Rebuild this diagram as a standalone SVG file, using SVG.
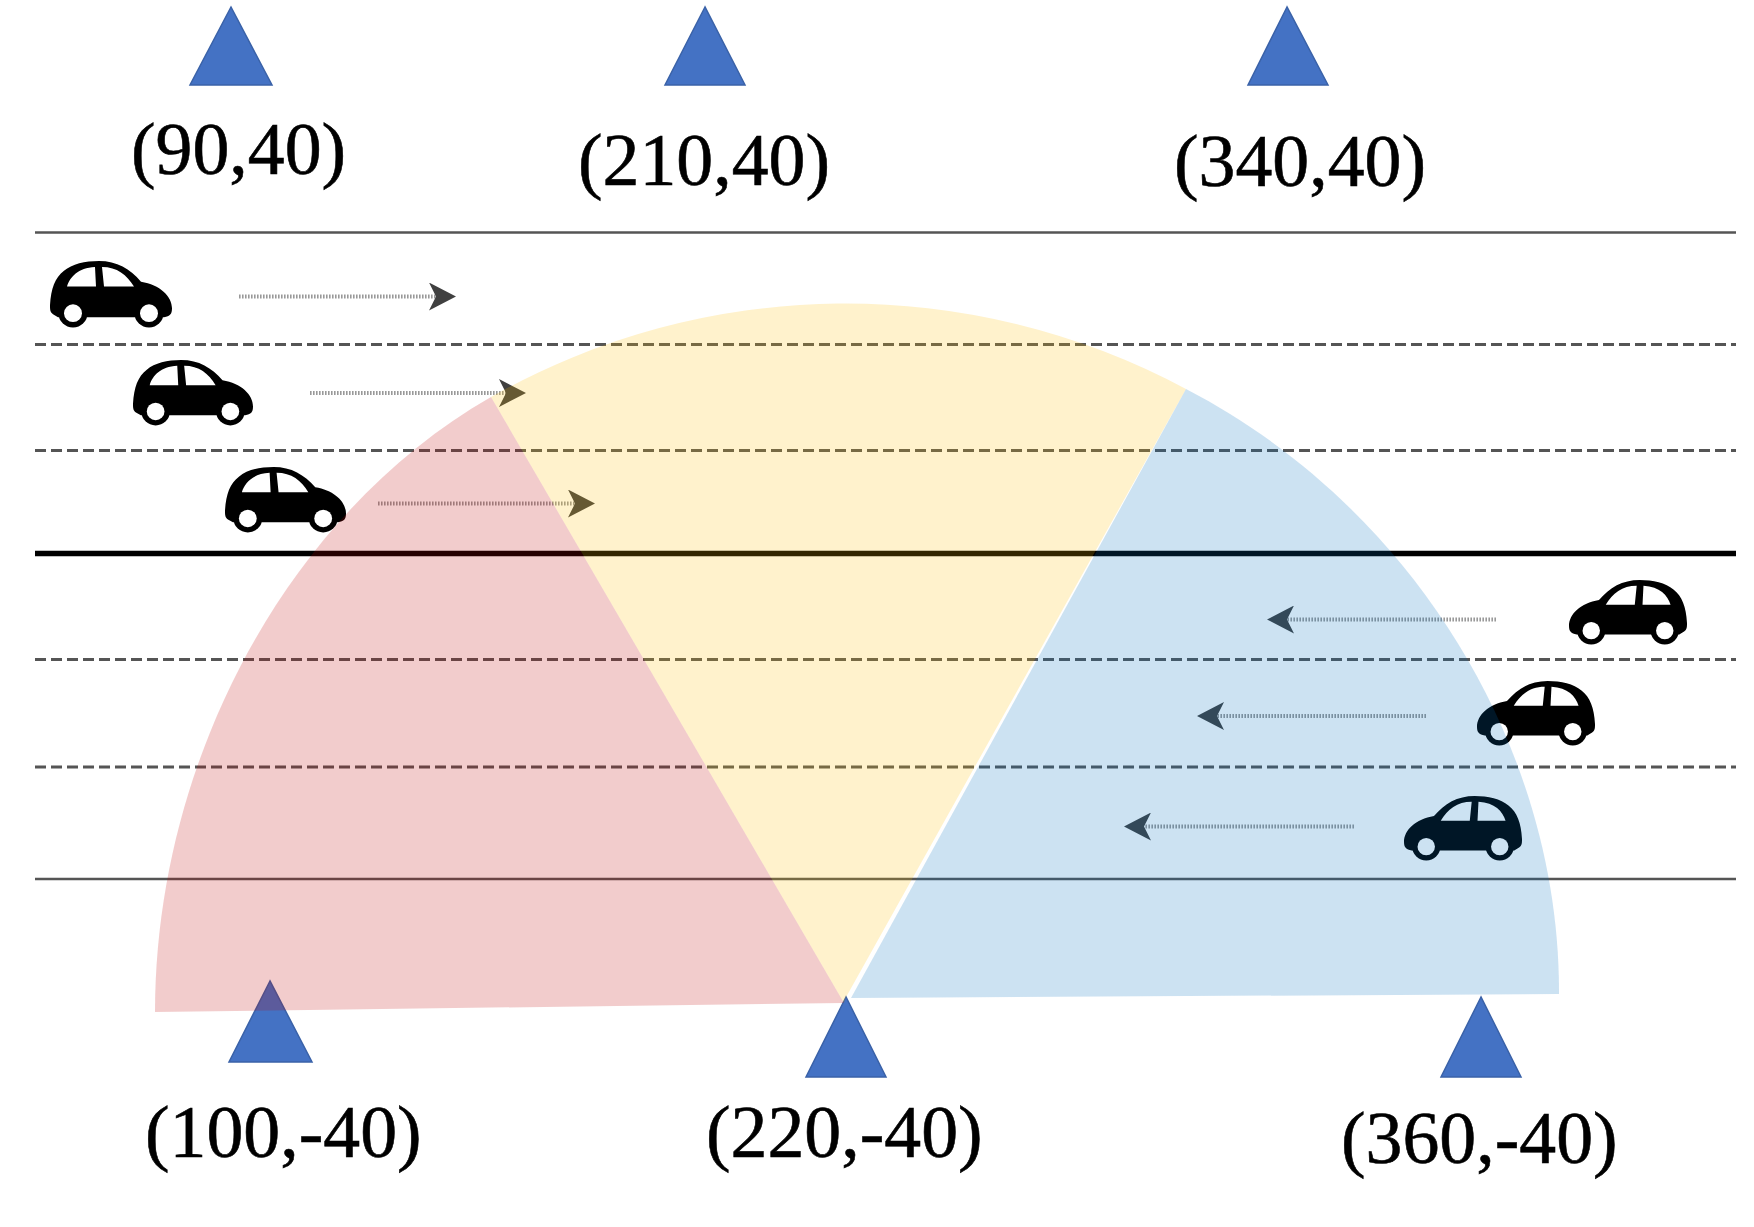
<svg xmlns="http://www.w3.org/2000/svg" xmlns:xlink="http://www.w3.org/1999/xlink" width="1754" height="1227" viewBox="0 0 1754 1227">
<style>
.solid{stroke:#555;stroke-width:2.4;fill:none}
.dash{stroke:#555;stroke-width:3;stroke-dasharray:11 5;fill:none}
.thick{stroke:#000;stroke-width:5.5;fill:none}
.flow{stroke:#999;stroke-width:4;stroke-dasharray:1.6 1.4;fill:none;marker-end:url(#head)}
.tri{fill:#4472c4;stroke:#3a62a8;stroke-width:1.5}
.lbl{font-family:"Liberation Serif","Times New Roman",serif;font-size:73.8px;fill:#000;stroke:#000;stroke-width:.6}
</style>
<defs>
<marker id="head" markerUnits="userSpaceOnUse" markerWidth="27" markerHeight="28" refX="8" refY="14" orient="auto" viewBox="0 0 27 28">
<path d="M0 0 L27 14 L0 28 L7 14 Z" fill="#404040"/>
</marker>
<symbol id="car" viewBox="0 0 122 67" overflow="visible" preserveAspectRatio="none">
<path d="M3 54 C0 52 0 49 0 45 C1 28 5 17 14 10 C22 3 35 0 49 0 C67 0 80 8 91 21 C110 24 122 36 122 48 C122 54 120 56 114 57 L8 57 Z" fill="#000"/>
<circle cx="23" cy="53" r="14.5" fill="#000"/><circle cx="99" cy="53" r="14.5" fill="#000"/>
<circle cx="23" cy="53" r="9" fill="#fff"/><circle cx="99" cy="53" r="9" fill="#fff"/>
<path d="M17 26 C20 16 28 7 45 6 L46 26 Z M52 6 C67 6 77 14 84 26 L54 26 Z" fill="#fff"/>
</symbol>
</defs>
<rect width="1754" height="1227" fill="#fff"/>
<g id="road">
<line class="solid" x1="35" y1="232.5" x2="1736" y2="232.5"/>
<line class="dash" x1="35" y1="344.5" x2="1736" y2="344.5"/>
<line class="dash" x1="35" y1="450.5" x2="1736" y2="450.5"/>
<line class="thick" x1="35" y1="553.5" x2="1736" y2="553.5"/>
<line class="dash" x1="35" y1="659.5" x2="1736" y2="659.5"/>
<line class="dash" x1="35" y1="767" x2="1736" y2="767"/>
<line class="solid" x1="35" y1="879" x2="1736" y2="879"/>
</g>
<g id="connectors">
<line class="flow" x1="239" y1="296.5" x2="437" y2="296.5"/>
<line class="flow" x1="310" y1="393" x2="507" y2="393"/>
<line class="flow" x1="378" y1="503.5" x2="576" y2="503.5"/>
<line class="flow" x1="1496" y1="619.5" x2="1286" y2="619.5"/>
<line class="flow" x1="1426" y1="716" x2="1216" y2="716"/>
<line class="flow" x1="1354" y1="826.5" x2="1143" y2="826.5"/>
</g>
<g id="car1"><use href="#car" x="50" y="261" width="122" height="66"/></g>
<g id="car2"><use href="#car" x="133" y="360" width="120" height="65"/></g>
<g id="car3"><use href="#car" x="225" y="467" width="121" height="65"/></g>
<g id="car4"><use href="#car" transform="translate(1687 580) scale(-1 1)" width="118" height="64"/></g>
<g id="car5"><use href="#car" transform="translate(1595 681) scale(-1 1)" width="118" height="64"/></g>
<g id="car6"><use href="#car" transform="translate(1522 796) scale(-1 1)" width="118" height="64"/></g>
<g id="station-90-40"><polygon class="tri" points="231,7 190,85 272,85"/><text class="lbl" x="131" y="174">(90,40)</text></g>
<g id="station-210-40"><polygon class="tri" points="705,7 665,85 745,85"/><text class="lbl" x="578" y="185">(210,40)</text></g>
<g id="station-340-40"><polygon class="tri" points="1287,7 1248,85 1328,85"/><text class="lbl" x="1174" y="186">(340,40)</text></g>
<g id="station-100--40"><polygon class="tri" points="270,981 229,1062 312,1062"/><text class="lbl" x="145" y="1157">(100,-40)</text></g>
<g id="station-220--40"><polygon class="tri" points="846,997 806,1077 886,1077"/><text class="lbl" x="706" y="1157">(220,-40)</text></g>
<g id="station-360--40"><polygon class="tri" points="1481,997 1441,1077 1521,1077"/><text class="lbl" x="1341" y="1163">(360,-40)</text></g>
<g id="coverage">
<path d="M844 1003 L491 397 A 720 720 0 0 1 1186 389 L845 999 Z" fill="#ffc000" fill-opacity=".2"/>
<path d="M844 1003 L155 1012 C155 765 285 515 491 397 Z" fill="#c00000" fill-opacity=".2"/>
<path d="M851 998 L1186 389 C1410 505 1560 745 1559 994 Z" fill="#0070c0" fill-opacity=".2"/>
</g>
</svg>
